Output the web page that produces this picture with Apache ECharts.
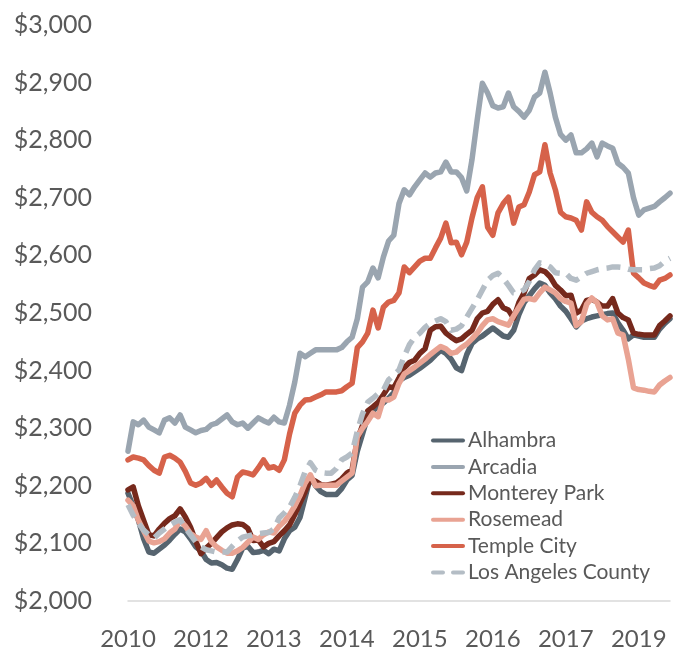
<!DOCTYPE html>
<html>
<head>
<meta charset="utf-8">
<script src="https://cdn.jsdelivr.net/npm/echarts@6/dist/echarts.min.js"></script>
<style>
html,body{margin:0;padding:0;background:#fff;}
#chart{width:673px;height:652px;}
</style>
</head>
<body>
<div id="chart"></div>
<script>
const months = [
'2010-11','2010-12',
'2011-01','2011-02','2011-03','2011-04','2011-05','2011-06','2011-07','2011-08','2011-09','2011-10','2011-11','2011-12',
'2012-01','2012-02','2012-03','2012-04','2012-05','2012-06','2012-07','2012-08','2012-09','2012-10','2012-11','2012-12',
'2013-01','2013-02','2013-03','2013-04','2013-05','2013-06','2013-07','2013-08','2013-09','2013-10','2013-11','2013-12',
'2014-01','2014-02','2014-03','2014-04','2014-05','2014-06','2014-07','2014-08','2014-09','2014-10','2014-11','2014-12',
'2015-01','2015-02','2015-03','2015-04','2015-05','2015-06','2015-07','2015-08','2015-09','2015-10','2015-11','2015-12',
'2016-01','2016-02','2016-03','2016-04','2016-05','2016-06','2016-07','2016-08','2016-09','2016-10','2016-11','2016-12',
'2017-01','2017-02','2017-03','2017-04','2017-05','2017-06','2017-07','2017-08','2017-09','2017-10','2017-11','2017-12',
'2018-01','2018-02','2018-03','2018-04','2018-05','2018-06','2018-07','2018-08','2018-09','2018-10','2018-11','2018-12',
'2019-01','2019-02','2019-03','2019-04','2019-05','2019-06','2019-07'
];

const alhambra = [
2187,2165,2140,2108,2085,2083,2090,2097,2106,2116,2125,2120,2108,2094,2087,2072,2066,2067,2063,2057,
2055,2072,2092,2095,2084,2085,2088,2082,2090,2087,2108,2122,2128,2145,2180,2215,2200,2190,2185,2185,
2185,2195,2210,2218,2260,2290,2320,2330,2338,2344,2352,2362,2382,2388,2392,2398,2404,2411,2418,2427,
2435,2430,2420,2405,2400,2428,2447,2455,2460,2467,2474,2467,2460,2458,2470,2497,2518,2530,2542,2552,
2548,2535,2525,2512,2503,2490,2476,2486,2490,2493,2495,2497,2499,2500,2483,2470,2455,2462,2460,2458,
2458,2458,2472,2482,2490
];
const arcadia = [
2260,2311,2306,2314,2302,2297,2292,2314,2318,2309,2323,2302,2297,2292,2296,2298,2306,2309,2316,2323,
2311,2306,2309,2300,2309,2318,2313,2309,2319,2311,2309,2340,2380,2430,2424,2430,2436,2436,2436,2436,
2436,2440,2450,2458,2490,2545,2554,2578,2561,2597,2625,2635,2690,2714,2705,2719,2731,2743,2736,2743,
2745,2762,2745,2745,2735,2712,2766,2835,2899,2882,2860,2856,2858,2882,2858,2850,2840,2852,2875,2882,
2918,2882,2840,2810,2800,2809,2778,2778,2785,2795,2771,2795,2790,2786,2760,2753,2743,2700,2670,2679,
2682,2685,2693,2700,2708
];
const montereyPark = [
2193,2198,2165,2140,2115,2113,2125,2135,2143,2148,2160,2146,2128,2104,2082,2092,2100,2110,2120,2127,
2132,2134,2133,2126,2105,2106,2094,2100,2103,2113,2122,2132,2150,2170,2190,2212,2208,2202,2201,2203,
2205,2212,2222,2228,2280,2305,2330,2337,2345,2358,2372,2370,2387,2405,2414,2418,2430,2438,2470,2476,
2477,2465,2458,2452,2455,2463,2470,2490,2500,2503,2515,2523,2509,2505,2491,2518,2535,2560,2566,2575,
2572,2563,2548,2540,2530,2531,2500,2505,2522,2524,2519,2512,2512,2525,2500,2492,2488,2465,2463,2462,
2462,2462,2478,2486,2495
];
const rosemead = [
2175,2165,2140,2122,2104,2101,2103,2108,2118,2125,2140,2130,2117,2111,2107,2122,2103,2094,2088,2083,
2083,2087,2093,2102,2111,2107,2115,2120,2118,2130,2138,2150,2165,2183,2205,2219,2200,2201,2201,2201,
2201,2208,2215,2222,2285,2300,2312,2326,2320,2350,2349,2354,2378,2394,2400,2406,2413,2420,2428,2435,
2442,2438,2430,2432,2440,2446,2455,2465,2478,2488,2490,2485,2482,2479,2495,2510,2524,2525,2523,2535,
2545,2540,2535,2525,2520,2517,2478,2485,2515,2526,2518,2495,2488,2490,2465,2462,2420,2370,2367,2366,
2364,2363,2375,2382,2388
];
const templeCity = [
2245,2250,2248,2245,2235,2227,2222,2250,2253,2248,2241,2225,2205,2201,2205,2213,2201,2210,2198,2187,
2181,2215,2224,2222,2219,2231,2245,2231,2233,2227,2245,2290,2326,2340,2349,2350,2354,2358,2363,2363,
2363,2365,2372,2378,2440,2450,2465,2505,2474,2510,2519,2522,2535,2580,2570,2580,2590,2595,2595,2613,
2630,2656,2622,2623,2601,2623,2665,2700,2719,2649,2635,2674,2690,2701,2656,2684,2688,2710,2740,2745,
2792,2743,2714,2675,2667,2665,2661,2644,2693,2675,2667,2661,2650,2641,2632,2623,2644,2569,2561,2552,
2548,2545,2557,2560,2566
];
const laCounty = [
2167,2149,2135,2123,2115,2109,2118,2125,2132,2137,2141,2127,2115,2103,2094,2089,2087,2085,2085,2085,
2095,2104,2111,2113,2115,2117,2118,2119,2125,2144,2153,2163,2180,2200,2225,2240,2227,2223,2222,2222,
2230,2245,2250,2257,2295,2325,2345,2352,2360,2366,2384,2392,2401,2425,2445,2458,2465,2475,2482,2486,
2490,2485,2470,2472,2478,2493,2508,2523,2540,2557,2565,2569,2560,2548,2535,2535,2540,2555,2575,2587,
2585,2580,2570,2569,2569,2560,2557,2563,2569,2572,2575,2577,2578,2580,2580,2579,2576,2575,2575,2575,
2577,2578,2582,2590,2595
];

const seriesNames = ['Alhambra','Arcadia','Monterey Park','Rosemead','Temple City','Los Angeles County'];
const seriesData = [alhambra, arcadia, montereyPark, rosemead, templeCity, laCounty];
const seriesColors = ['#56646f','#9aa5b0','#76291c','#e9a393','#d6624a','#b4bdc5'];

const chart = echarts.init(document.getElementById('chart'));
const txt = '#595959';
const fontFam = 'Lato, "Open Sans", sans-serif';
const solidIcon = 'path://M2,0H32A2,2 0 0 1 32,4H2A2,2 0 0 1 2,0Z';
const dashIcon = 'path://M2,0H12A2,2 0 0 1 12,4H2A2,2 0 0 1 2,0Z M22,0H32A2,2 0 0 1 32,4H22A2,2 0 0 1 22,0Z';

chart.setOption({
  animation: false,
  backgroundColor: '#fff',
  grid: { left: 128, right: 3, top: 25, bottom: 51, containLabel: false },
  legend: {
    orient: 'vertical',
    left: 426,
    top: 425,
    itemWidth: 34,
    itemHeight: 5,
    itemGap: 5.4,
    icon: solidIcon,
    textStyle: { color: txt, fontSize: 21, fontFamily: fontFam, padding: [0, 0, 0, -2] },
    data: seriesNames.map((n, k) => k === 5 ? { name: n, icon: dashIcon } : { name: n, icon: solidIcon })
  },
  xAxis: {
    type: 'category',
    data: months,
    boundaryGap: false,
    axisLine: { show: true, lineStyle: { color: '#d9d9d9', width: 1.5 } },
    axisTick: { show: false },
    axisLabel: {
      interval: 13,
      margin: 26,
      hideOverlap: false,
      color: txt,
      fontSize: 24,
      fontFamily: fontFam,
      formatter: v => v.slice(0, 4)
    },
    splitLine: { show: false }
  },
  yAxis: {
    type: 'value',
    min: 2000,
    max: 3000,
    interval: 100,
    axisLine: { show: false },
    axisTick: { show: false },
    splitLine: { show: false },
    axisLabel: {
      margin: 36,
      color: txt,
      fontSize: 25,
      fontFamily: fontFam,
      formatter: v => '$' + v.toLocaleString('en-US')
    }
  },
  series: seriesNames.map((name, k) => ({
    name: name,
    type: 'line',
    data: seriesData[k],
    symbol: 'none',
    smooth: false,
    color: seriesColors[k],
    itemStyle: { color: seriesColors[k] },
    lineStyle: {
      color: seriesColors[k],
      width: 5.5,
      type: k === 5 ? [14, 8] : 'solid',
      cap: k === 5 ? 'butt' : 'round',
      join: 'round'
    },
    z: 2 + k
  }))
});
</script>
</body>
</html>
